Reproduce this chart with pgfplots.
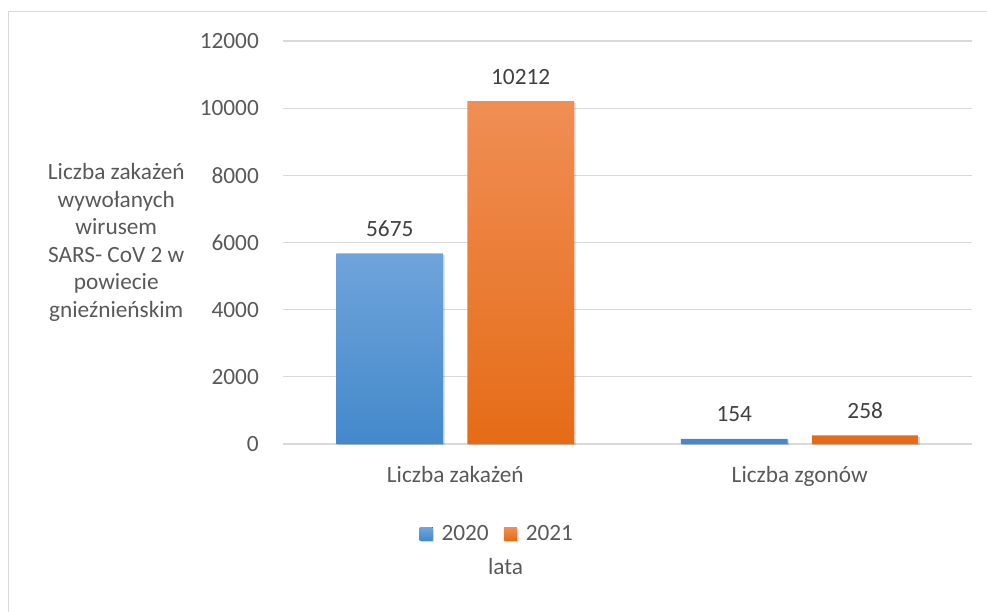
\documentclass[border=0pt]{standalone}
\usepackage{pgfplots}
\pgfplotsset{compat=1.18}
\usepackage{fontspec}
\setmainfont{Carlito}
\definecolor{gridc}{HTML}{D9D9D9}
\definecolor{txt}{HTML}{595959}
\definecolor{lbl}{HTML}{404040}
\definecolor{btop}{HTML}{6FA4DB}
\definecolor{bbot}{HTML}{4389CB}
\definecolor{otop}{HTML}{F08E55}
\definecolor{obot}{HTML}{E56C16}
\newcommand{\cfont}{\fontsize{23.3}{27.6}\selectfont}
\begin{document}
\begin{tikzpicture}
\path[use as bounding box] (0pt,0pt) rectangle (987pt,-612pt);
\draw[gridc, line width=1.3pt] (8.5pt,-11.5pt) rectangle (1200pt,-800pt);
\begin{axis}[
  at={(283pt,-444pt)}, anchor=south west,
  scale only axis, width=689pt, height=403pt,
  xmin=-0.5, xmax=1.5, ymin=0, ymax=12000,
  xtick={0,1}, xticklabels={Liczba zakażeń, Liczba zgonów},
  ytick={0,2000,...,12000},
  ymajorgrids, major grid style={gridc, line width=1.3pt},
  axis line style={draw=none},
  major tick length=0pt,
  tick label style={font=\cfont, text=txt},
  /pgf/number format/assume math mode=true,
  /pgf/number format/1000 sep={},
  scaled y ticks=false,
  yticklabel style={anchor=east, inner sep=0pt, xshift=-24pt},
  xticklabel style={anchor=base, inner sep=0pt, yshift=-38pt},
  ybar, bar width=0.31,
  nodes near coords,
  nodes near coords style={font=\cfont, text=lbl, anchor=base, inner sep=0pt, yshift=17pt},
  legend style={at={(axis description cs:0.311,-0.2233)}, anchor=center, draw=none, fill=none,
    legend columns=2, font=\cfont, text=txt,
    /tikz/every odd column/.append style={column sep=7pt},
    /tikz/every even column/.append style={column sep=13pt}},
  legend image code/.code={\fill[#1] (0pt,-6.5pt) rectangle (13pt,6.5pt);},
  xlabel={lata},
  xlabel style={at={(axis description cs:0.323,-0.3226)}, anchor=base, font=\cfont, text=txt},
  ylabel={Liczba zakażeń\\wywołanych\\wirusem\\SARS- CoV 2 w\\powiecie\\gnieźnieńskim},
  ylabel style={rotate=-90, align=center, at={(axis description cs:-0.242,0.5)}, anchor=center, font=\cfont, text=txt},
]
\addplot[bar shift=-0.19, top color=btop, bottom color=bbot, draw=none,
  preaction={fill=black, fill opacity=0.12, draw=none, transform canvas={xshift=1.5pt,yshift=-1.5pt}}]
  coordinates {(0,5675) (1,154)};
\addplot[bar shift=0.19, top color=otop, bottom color=obot, draw=none,
  preaction={fill=black, fill opacity=0.12, draw=none, transform canvas={xshift=1.5pt,yshift=-1.5pt}}]
  coordinates {(0,10212) (1,258)};
\legend{2020,2021}
\end{axis}
\end{tikzpicture}
\end{document}
